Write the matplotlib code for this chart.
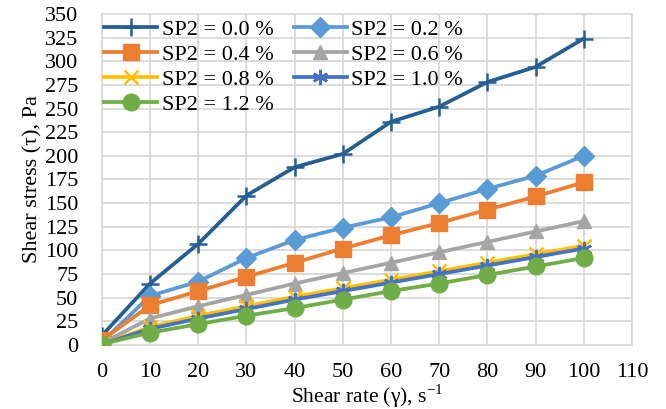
import matplotlib
matplotlib.use("Agg")
import matplotlib.pyplot as plt

# data
shear_rate = [0, 10, 20, 30, 40, 50, 60, 70, 80, 90, 100]
sp2_00 = [10, 65, 107, 158, 188, 202, 236, 252, 278, 294, 324]
sp2_02 = [3, 52, 67, 92, 111, 124, 135, 150, 165, 179, 200]
sp2_04 = [5, 42, 57, 72, 87, 102, 116, 129, 143, 157, 172]
sp2_06 = [2, 28, 41, 53, 65, 76, 87, 98, 109, 120, 131]
sp2_08 = [1, 19, 31, 41, 51, 60, 69, 78, 87, 96, 105]
sp2_10 = [1, 17, 28, 38, 48, 57, 66, 75, 84, 93, 102]
sp2_12 = [1, 13, 22, 31, 39, 48, 57, 65, 74, 83, 92]
labels = ["SP2 = 0.0 %", "SP2 = 0.2 %", "SP2 = 0.4 %", "SP2 = 0.6 %",
          "SP2 = 0.8 %", "SP2 = 1.0 %", "SP2 = 1.2 %"]

plt.rcParams["font.family"] = ["Liberation Serif", "DejaVu Serif"]
plt.rcParams["mathtext.fontset"] = "custom"
plt.rcParams["mathtext.rm"] = "Liberation Serif"

fig = plt.figure(figsize=(6.66, 4.09), dpi=100)
ax = fig.add_axes([0.153, 0.1565, 0.796, 0.8095])

series = [sp2_00, sp2_02, sp2_04, sp2_06, sp2_08, sp2_10, sp2_12]
colores = ["#255E91", "#5B9BD5", "#ED7D31", "#A5A5A5", "#FFC000", "#4472C4", "#70AD47"]
marcadores = ["+", "D", "s", "^", "x", (6, 2, 0), "o"]
tamanos = [13, 10, 12, 10, 10, 11, 12]

lineas = []
for y, c, m, s, lab in zip(series, colores, marcadores, tamanos, labels):
    l, = ax.plot(shear_rate, y, color=c, marker=m, markersize=s, lw=2.7,
                 markeredgewidth=1.8 if m in ["+", "x", (6, 2, 0)] else 1.0,
                 markeredgecolor=c, label=lab, zorder=3)
    lineas.append(l)

ax.set_xlim(0, 110)
ax.set_ylim(0, 350)
ax.set_xticks(range(0, 111, 10))
ax.set_yticks(range(0, 351, 25))
ax.grid(True, color="#D9D9D9", lw=1.3)
ax.set_axisbelow(True)
for sp in ax.spines.values():
    sp.set_color("#D9D9D9")
    sp.set_linewidth(1.3)
ax.tick_params(length=0, labelsize=16)
ax.tick_params(axis="y", pad=17)
ax.tick_params(axis="x", pad=13)
ax.set_xlabel("Shear rate (γ), s$^{\\mathregular{-1}}$", fontsize=15.5, labelpad=0)
ax.set_ylabel("Shear stress (τ), Pa", fontsize=16, labelpad=2)

# orden por filas como en Excel
orden = [0, 2, 4, 6, 1, 3, 5]
ax.legend([lineas[i] for i in orden], [labels[i] for i in orden],
          loc="upper left", ncol=2, frameon=False, fontsize=16,
          handlelength=2.4, columnspacing=0.9, labelspacing=0.2,
          borderaxespad=0.0, handletextpad=0.2, borderpad=0.1,
          bbox_to_anchor=(0.0, 0.99))

plt.savefig("out.png", dpi=100)
